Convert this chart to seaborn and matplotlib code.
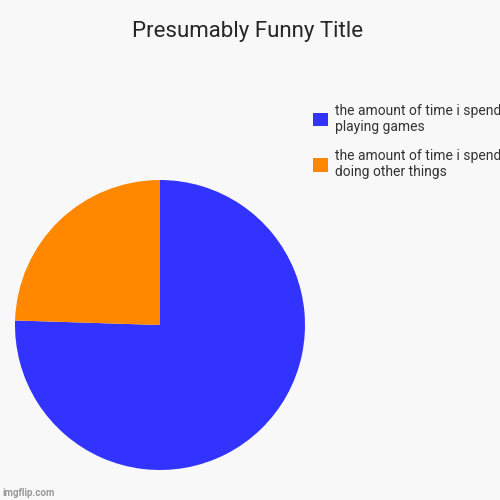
import matplotlib
matplotlib.use("Agg")
import matplotlib.pyplot as plt
import seaborn as sns

# values
labels = ["the amount of time i spend\nplaying games", "the amount of time i spend\ndoing other things"]
shares = [75.5, 24.5]
colors = ["#3333ff", "#ff8800"]

sns.set_theme(style="white")
plt.rcParams['font.family'] = ['Roboto', 'DejaVu Sans']

fig = plt.figure(figsize=(5, 5), dpi=100, facecolor="#f8f8f8")
ax = fig.add_axes([0.03, 0.06, 0.58, 0.58])
ax.set_facecolor("#f8f8f8")
wedges, _ = ax.pie(shares, colors=colors, startangle=90, counterclock=False,
                   wedgeprops=dict(linewidth=0))
ax.set_xlim(-1, 1)
ax.set_ylim(-1, 1)
ax.set_aspect("equal")
ax.axis("off")

fig.text(0.495, 0.937, "Presumably Funny Title", ha="center", va="center", fontsize=16)

leg = fig.legend(wedges, labels, loc="upper left", bbox_to_anchor=(0.6, 0.818),
                 frameon=False, fontsize=10, labelspacing=1.1, handlelength=1.1,
                 handleheight=1.1, handletextpad=0.5)
for t in leg.get_texts():
    t.set_color("#333333")

fig.text(0.005, 0.008, "imgflip.com", fontsize=7, color="#999999", fontweight="bold")

fig.savefig("out.png", dpi=100, facecolor=fig.get_facecolor())
